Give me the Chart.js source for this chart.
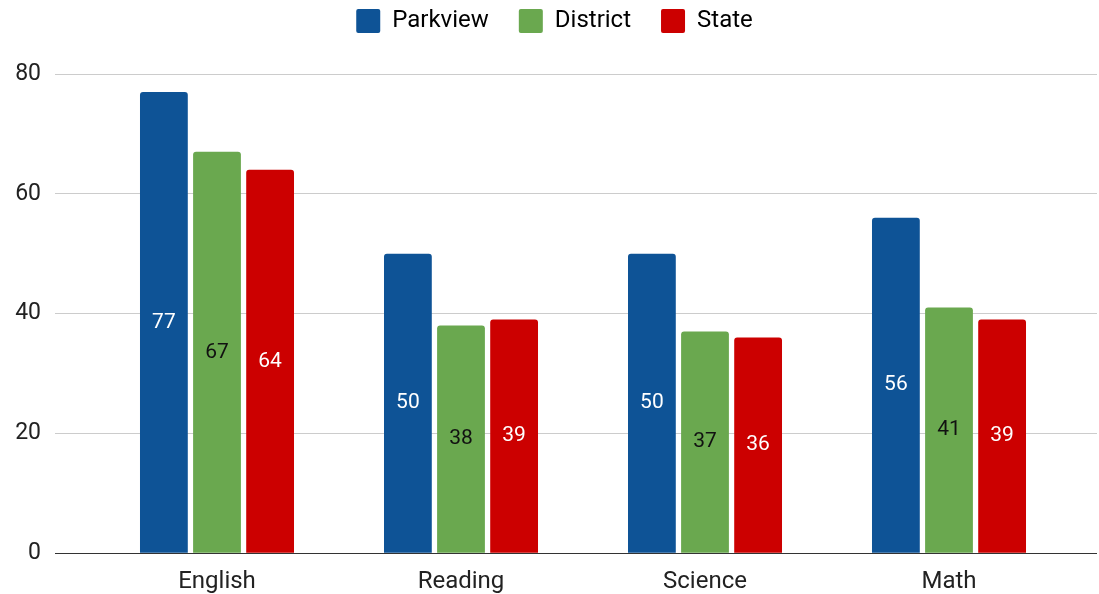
<!DOCTYPE html>
<html>
<head>
<meta charset="utf-8">
<script src="https://cdn.jsdelivr.net/npm/chart.js@4"></script>
<style>
  body { margin: 0; background: #fff; }
  #wrap { width: 1099px; height: 594px; }
</style>
</head>
<body>
<div id="wrap"><canvas id="chart"></canvas></div>
<script>
const subjects = ["English", "Reading", "Science", "Math"];
const parkview = [77, 50, 50, 56];
const district = [67, 38, 37, 41];
const state = [64, 39, 36, 39];
const yTicks = [0, 20, 40, 60, 80];

// value labels in the middle of each bar
const barLabels = {
  id: "barLabels",
  afterDatasetsDraw(chart) {
    const ctx = chart.ctx;
    ctx.save();
    ctx.font = "21px Roboto";
    ctx.textAlign = "center";
    ctx.textBaseline = "middle";
    chart.data.datasets.forEach((ds, i) => {
      chart.getDatasetMeta(i).data.forEach((bar, j) => {
        ctx.fillStyle = ds.labelColor;
        ctx.fillText(ds.data[j], bar.x, (bar.y + bar.base) / 2);
      });
    });
    ctx.restore();
  }
};

// grid lines run a little past the right edge of the plot
const gridTail = {
  id: "gridTail",
  beforeDatasetsDraw(chart) {
    const ctx = chart.ctx, y = chart.scales.y, a = chart.chartArea;
    ctx.save();
    ctx.lineWidth = 1;
    yTicks.forEach(v => {
      const py = Math.round(y.getPixelForValue(v) - 0.5) + 0.5;
      ctx.strokeStyle = v === 0 ? "#333333" : "#cccccc";
      ctx.beginPath();
      ctx.moveTo(a.right - 1, py);
      ctx.lineTo(a.right + 26, py);
      ctx.stroke();
    });
    ctx.restore();
  }
};

// extra room under the legend, and nudge it right to sit over the page centre
const legendGap = {
  id: "legendGap",
  beforeInit(chart) {
    const fit = chart.legend.fit;
    chart.legend.fit = function () {
      fit.bind(chart.legend)();
      this.height += 31;
    };
  },
  afterLayout(chart) {
    chart.legend.left += 38;
  }
};

const bar = (label, data, color, labelColor) => ({
  label, data, labelColor,
  backgroundColor: color,
  borderColor: color,
  borderWidth: 0,
  borderRadius: { topLeft: 3, topRight: 3 },
  borderSkipped: "start",
  categoryPercentage: 0.653,
  barPercentage: 0.9
});

new Chart(document.getElementById("chart"), {
  type: "bar",
  data: {
    labels: subjects,
    datasets: [
      bar("Parkview", parkview, "#0e5396", "#ffffff"),
      bar("District", district, "#6aa84f", "#111111"),
      bar("State", state, "#cc0000", "#ffffff")
    ]
  },
  options: {
    responsive: true,
    maintainAspectRatio: false,
    animation: false,
    layout: { padding: { top: -21, right: 28, bottom: -16, left: 0 } },
    plugins: {
      legend: {
        position: "top",
        labels: {
          boxWidth: 24, boxHeight: 24, padding: 30,
          color: "#222222",
          font: { family: "Roboto", size: 24 },
          generateLabels(chart) {
            return chart.data.datasets.map((ds, i) => ({
              text: ds.label, fillStyle: ds.backgroundColor,
              strokeStyle: ds.backgroundColor, lineWidth: 0,
              borderRadius: 2, datasetIndex: i
            }));
          },
          useBorderRadius: true
        }
      },
      tooltip: { enabled: false }
    },
    scales: {
      x: {
        grid: { display: false, drawTicks: false },
        border: { display: false },
        ticks: { color: "#222222", font: { family: "Roboto", size: 24 }, padding: 14 }
      },
      y: {
        min: 0, max: 80,
        afterFit(scale) { scale.width = 95; },
        afterBuildTicks(scale) { scale.ticks = yTicks.map(v => ({ value: v })); },
        border: { display: false },
        grid: {
          color: c => c.tick && c.tick.value === 0 ? "#333333" : "#cccccc",
          tickLength: 40
        },
        ticks: { color: "#222222", font: { family: "Roboto", size: 23 }, padding: 14 }
      }
    }
  },
  plugins: [barLabels, gridTail, legendGap]
});
</script>
</body>
</html>
